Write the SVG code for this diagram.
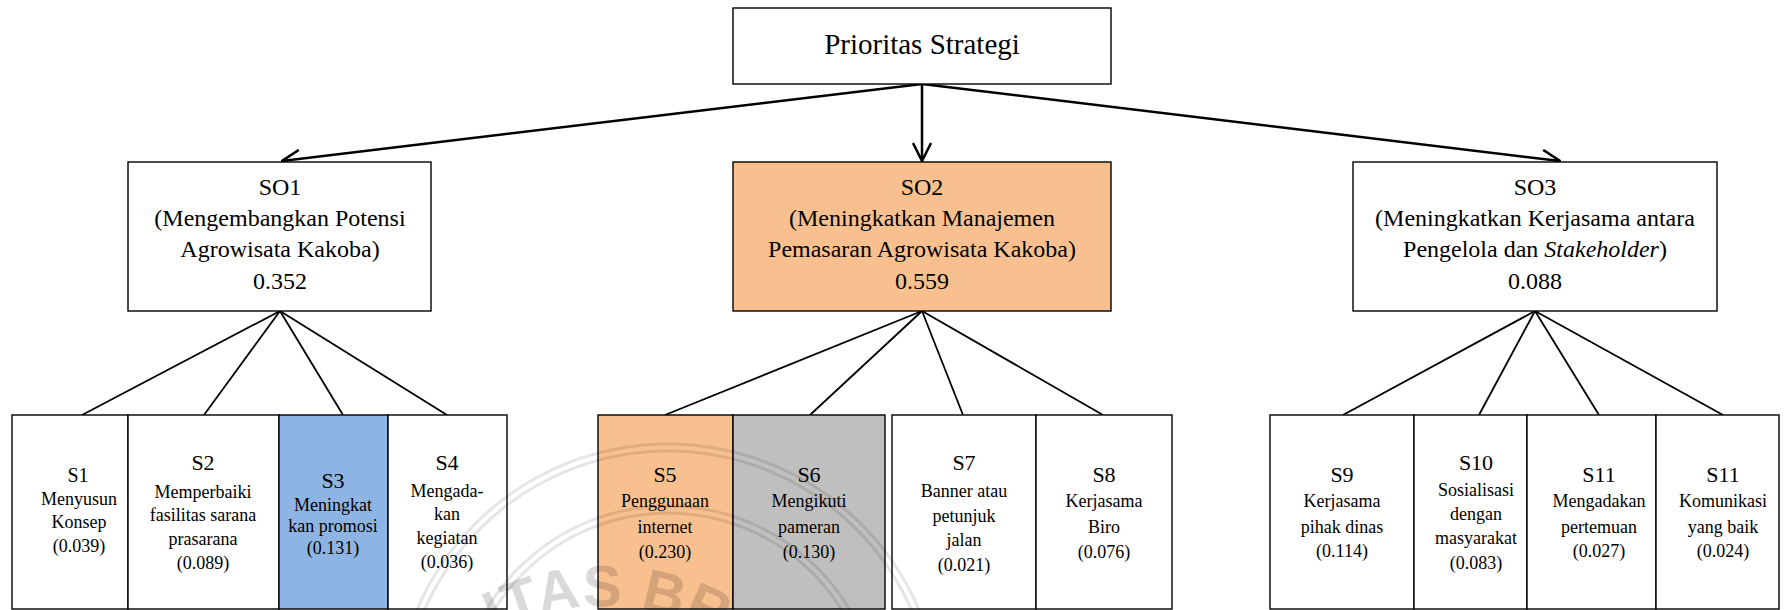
<svg xmlns="http://www.w3.org/2000/svg" width="1789" height="610" viewBox="0 0 1789 610">
<style>
.box{stroke:#000;stroke-width:1.4;fill:#fff}
.or{fill:#F9C08F}
.bl{fill:#8EB4E3}
.gr{fill:#BFBFBF}
.t{font-family:"Liberation Serif","Times New Roman",serif;fill:#000;text-anchor:middle}
.top{font-size:29px}
.so{font-size:24px}
.sl{font-size:22px}
.sd{font-size:18px}
.arr{stroke:#000;stroke-width:2.5;fill:none;marker-end:url(#ah)}
.ln{stroke:#000;stroke-width:1.8;fill:none}
.wm{fill:none;stroke:#000;stroke-opacity:0.1;stroke-width:3}
.wmt{font-family:"Liberation Sans",Arial,sans-serif;font-weight:bold;font-size:58px;fill:#000;fill-opacity:0.15;letter-spacing:1px}
</style>
<defs>
<marker id="ah" viewBox="0 0 20 20" refX="19" refY="10" markerWidth="20" markerHeight="20" markerUnits="userSpaceOnUse" orient="auto">
<path d="M1,1 L19,10 L1,19" fill="none" stroke="#000" stroke-width="2.5"/>
</marker>
<path id="wmpath" d="M 365 846 A 240 240 0 0 1 845 846"/>
</defs>
<rect width="1789" height="610" fill="#fff"/>

<g id="connectors">
<line class="arr" x1="922" y1="84" x2="282" y2="161"/>
<line class="arr" x1="922" y1="84" x2="922" y2="161"/>
<line class="arr" x1="922" y1="84" x2="1560" y2="161"/>
<line class="ln" x1="280" y1="311" x2="82" y2="415"/>
<line class="ln" x1="280" y1="311" x2="204" y2="415"/>
<line class="ln" x1="280" y1="311" x2="343" y2="415"/>
<line class="ln" x1="280" y1="311" x2="447" y2="415"/>
<line class="ln" x1="922" y1="311" x2="665" y2="415"/>
<line class="ln" x1="922" y1="311" x2="810" y2="415"/>
<line class="ln" x1="922" y1="311" x2="963" y2="415"/>
<line class="ln" x1="922" y1="311" x2="1103" y2="415"/>
<line class="ln" x1="1535" y1="311" x2="1343" y2="415"/>
<line class="ln" x1="1535" y1="311" x2="1479" y2="415"/>
<line class="ln" x1="1535" y1="311" x2="1599" y2="415"/>
<line class="ln" x1="1535" y1="311" x2="1723" y2="415"/>
</g>

<g id="top">
<rect class="box" x="733" y="8" width="378" height="76"/>
<text class="t top" x="922" y="54">Prioritas Strategi</text>
</g>

<g id="SO1">
<rect class="box" x="128" y="162" width="303" height="149"/>
<text class="t so" x="280" y="195">SO1</text>
<text class="t so" x="280" y="226">(Mengembangkan Potensi</text>
<text class="t so" x="280" y="257">Agrowisata Kakoba)</text>
<text class="t so" x="280" y="289">0.352</text>
</g>

<g id="SO2">
<rect class="box or" x="733" y="162" width="378" height="149"/>
<text class="t so" x="922" y="195">SO2</text>
<text class="t so" x="922" y="226">(Meningkatkan Manajemen</text>
<text class="t so" x="922" y="257">Pemasaran Agrowisata Kakoba)</text>
<text class="t so" x="922" y="289">0.559</text>
</g>

<g id="SO3">
<rect class="box" x="1353" y="162" width="364" height="149"/>
<text class="t so" x="1535" y="195">SO3</text>
<text class="t so" x="1535" y="226">(Meningkatkan Kerjasama antara</text>
<text class="t so" x="1535" y="257">Pengelola dan <tspan font-style="italic">Stakeholder</tspan>)</text>
<text class="t so" x="1535" y="289">0.088</text>
</g>

<g id="S1">
<rect class="box" x="12" y="415" width="116" height="194"/>
<text class="t" x="78" y="482" font-size="20">S1</text>
<text class="t sd" x="79" y="505">Menyusun</text>
<text class="t sd" x="79" y="528">Konsep</text>
<text class="t sd" x="79" y="552">(0.039)</text>
</g>

<g id="S2">
<rect class="box" x="128" y="415" width="151" height="194"/>
<text class="t sl" x="203" y="470">S2</text>
<text class="t sd" x="203" y="498">Memperbaiki</text>
<text class="t sd" x="203" y="521">fasilitas sarana</text>
<text class="t sd" x="203" y="545">prasarana</text>
<text class="t sd" x="203" y="569">(0.089)</text>
</g>

<g id="S3">
<rect class="box bl" x="279" y="415" width="109" height="194"/>
<text class="t sl" x="333" y="488">S3</text>
<text class="t sd" x="333" y="511">Meningkat</text>
<text class="t sd" x="333" y="532">kan promosi</text>
<text class="t sd" x="333" y="554">(0.131)</text>
</g>

<g id="S4">
<rect class="box" x="388" y="415" width="119" height="194"/>
<text class="t sl" x="447" y="470">S4</text>
<text class="t sd" x="447" y="497">Mengada-</text>
<text class="t sd" x="447" y="520">kan</text>
<text class="t sd" x="447" y="544">kegiatan</text>
<text class="t sd" x="447" y="568">(0.036)</text>
</g>

<g id="S5">
<rect class="box or" x="598" y="415" width="135" height="194"/>
<text class="t sl" x="665" y="482">S5</text>
<text class="t sd" x="665" y="507">Penggunaan</text>
<text class="t sd" x="665" y="533">internet</text>
<text class="t sd" x="665" y="558">(0.230)</text>
</g>

<g id="S6">
<rect class="box gr" x="733" y="415" width="152" height="194"/>
<text class="t sl" x="809" y="482">S6</text>
<text class="t sd" x="809" y="507">Mengikuti</text>
<text class="t sd" x="809" y="533">pameran</text>
<text class="t sd" x="809" y="558">(0.130)</text>
</g>

<g id="S7">
<rect class="box" x="892" y="415" width="144" height="194"/>
<text class="t sl" x="964" y="470">S7</text>
<text class="t sd" x="964" y="497">Banner atau</text>
<text class="t sd" x="964" y="522">petunjuk</text>
<text class="t sd" x="964" y="546">jalan</text>
<text class="t sd" x="964" y="571">(0.021)</text>
</g>

<g id="S8">
<rect class="box" x="1036" y="415" width="136" height="194"/>
<text class="t sl" x="1104" y="482">S8</text>
<text class="t sd" x="1104" y="507">Kerjasama</text>
<text class="t sd" x="1104" y="533">Biro</text>
<text class="t sd" x="1104" y="558">(0.076)</text>
</g>

<g id="S9">
<rect class="box" x="1270" y="415" width="144" height="194"/>
<text class="t sl" x="1342" y="482">S9</text>
<text class="t sd" x="1342" y="507">Kerjasama</text>
<text class="t sd" x="1342" y="533">pihak dinas</text>
<text class="t sd" x="1342" y="557">(0.114)</text>
</g>

<g id="S10">
<rect class="box" x="1414" y="415" width="113" height="194"/>
<text class="t sl" x="1476" y="470">S10</text>
<text class="t sd" x="1476" y="496">Sosialisasi</text>
<text class="t sd" x="1476" y="520">dengan</text>
<text class="t sd" x="1476" y="544">masyarakat</text>
<text class="t sd" x="1476" y="569">(0.083)</text>
</g>

<g id="S11">
<rect class="box" x="1527" y="415" width="129" height="194"/>
<text class="t sl" x="1599" y="482">S11</text>
<text class="t sd" x="1599" y="507">Mengadakan</text>
<text class="t sd" x="1599" y="533">pertemuan</text>
<text class="t sd" x="1599" y="557">(0.027)</text>
</g>

<g id="S12">
<rect class="box" x="1656" y="415" width="123" height="194"/>
<text class="t sl" x="1723" y="482">S11</text>
<text class="t sd" x="1723" y="507">Komunikasi</text>
<text class="t sd" x="1723" y="533">yang baik</text>
<text class="t sd" x="1723" y="557">(0.024)</text>
</g>

<g id="watermark">
<circle class="wm" cx="668" cy="717" r="266"/>
<circle class="wm" cx="668" cy="717" r="273"/>
<circle class="wm" cx="668" cy="717" r="204"/>
<circle class="wm" cx="668" cy="717" r="211"/>
<text class="wmt" text-anchor="middle"><textPath href="#wmpath" startOffset="380">ITAS BR</textPath></text>
</g>
</svg>
